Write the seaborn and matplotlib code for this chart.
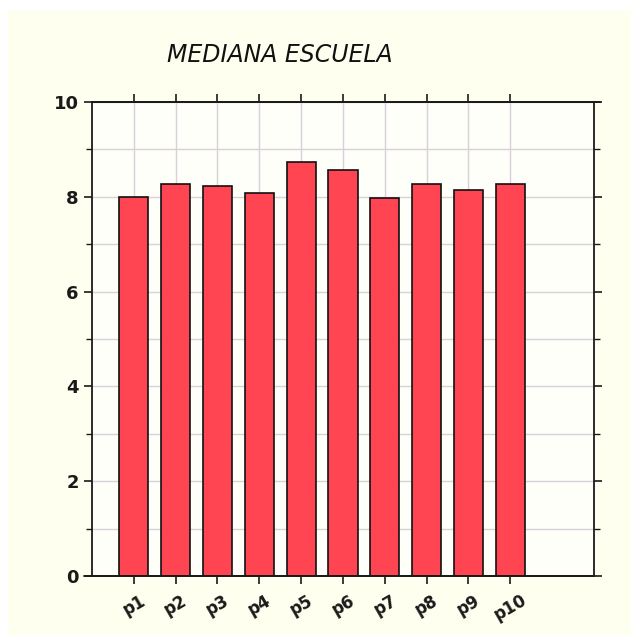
import matplotlib
matplotlib.use("Agg")
import matplotlib.pyplot as plt
import seaborn as sns
import pandas as pd
from matplotlib.patches import Rectangle
from matplotlib.ticker import MultipleLocator

categories = ["p1", "p2", "p3", "p4", "p5", "p6", "p7", "p8", "p9", "p10"]
values = [8.00, 8.27, 8.23, 8.07, 8.74, 8.57, 7.97, 8.26, 8.14, 8.26]
title = "MEDIANA ESCUELA"
yticks = [0, 2, 4, 6, 8, 10]

sns.set_theme(style="white")
plt.rcParams['font.family'] = ['DejaVu Sans']

cream = "#fffff0"
fig = plt.figure(figsize=(6.31, 6.35), dpi=100, facecolor="white")
fig.patches.append(Rectangle((8/631, 0), 1, 1 - 10/635, transform=fig.transFigure,
                             facecolor=cream, edgecolor="none", zorder=-10))
ax = fig.add_axes([92/631, 1 - 576/635, (594 - 92)/631, (576 - 102)/635])
ax.set_facecolor("#fffffa")

df = pd.DataFrame({"cat": categories, "val": values})
sns.barplot(data=df, x="cat", y="val", color="#ff4452", saturation=1, width=0.7,
            edgecolor="#111111", linewidth=1.2, ax=ax, zorder=3)
for p in ax.patches:
    p.set_facecolor("#ff4452")

ax.set_xlim(-1, 11)
ax.set_ylim(0, 10)
ax.set_yticks(yticks)
ax.yaxis.set_minor_locator(MultipleLocator(1))
ax.set_xlabel("")
ax.set_ylabel("")

ax.grid(True, which="both", axis="y", color="#dad0d8", linewidth=1.0, zorder=0)
ax.grid(True, which="major", axis="x", color="#dad0d8", linewidth=1.0, zorder=0)
ax.set_axisbelow(True)

for s in ax.spines.values():
    s.set_visible(True)
    s.set_color("#1a1a1a")
    s.set_linewidth(1.3)

ax.tick_params(axis="x", which="major", direction="out", length=6, width=1.2, color="#1a1a1a",
               bottom=True, top=True, labelbottom=True, labeltop=False, pad=5)
ax.tick_params(axis="y", which="major", direction="out", length=6, width=1.2, color="#1a1a1a",
               left=True, right=True, labelleft=True, labelright=False)
ax.tick_params(axis="y", which="minor", direction="out", length=4, width=1.0, color="#1a1a1a",
               left=True, right=True)

ax.set_xticks(range(len(categories)))
ax.set_xticklabels(categories, rotation=30, fontsize=12, fontweight="bold", color="#1a1a1a",
                   ha="center", va="top")
ax.set_yticks(yticks)
ax.set_yticklabels([str(v) for v in yticks], fontsize=13, fontweight="bold", color="#1a1a1a")

# extended axis lines
ax.plot([-8/502, 1.0], [0, 0], transform=ax.transAxes, color="#1a1a1a", lw=1.3, clip_on=False, zorder=5)
ax.plot([0, 1 + 6/502], [1, 1], transform=ax.transAxes, color="#1a1a1a", lw=1.3, clip_on=False, zorder=5)

fig.text(280/631, 1 - 55/635, title, fontsize=17, fontstyle="italic", ha="center", va="center",
         color="#111111")

fig.savefig("out.png", dpi=100, facecolor=fig.get_facecolor())
